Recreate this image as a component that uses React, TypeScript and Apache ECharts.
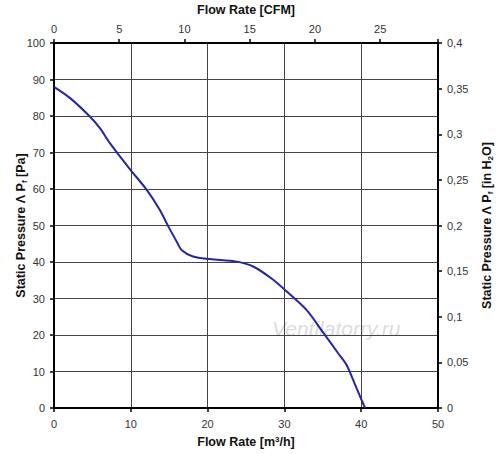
import React, { useEffect, useRef } from "react";
import * as echarts from "echarts";

const flowM3h = [0, 2.1, 4.7, 6.0, 7.3, 9.9, 12.1, 13.8, 14.9, 16.0, 16.6, 18.1, 20.3, 23.8, 26.0, 28.5, 30.3, 32.9, 35.1, 37.0, 38.1, 39.3, 40.5];
const pressurePa = [88, 84.9, 79.8, 76.6, 72.5, 65.4, 59.7, 54.2, 49.7, 45.5, 43.3, 41.5, 40.8, 40.1, 38.7, 35.2, 31.9, 26.8, 20.5, 15, 11.8, 5.9, 0];
const CFM_PER_M3H = 1 / 1.699;
const xMaxM3h = 50;
const yMaxPa = 100;
const yMaxInH2O = 0.4;

const FONT = "Liberation Sans, Arial, sans-serif";

export default function App() {
  const ref = useRef<HTMLDivElement>(null);
  useEffect(() => {
    const chart = echarts.init(ref.current!, null, { renderer: "svg" });
    const tickLabel = { color: "#333", fontSize: 11, fontFamily: FONT };
    const nameStyle = {
      color: "#111",
      fontSize: 12.5,
      fontWeight: "bold" as const,
      fontFamily: FONT,
      rich: {
        sub: { fontSize: 8, fontWeight: "bold", fontFamily: FONT, color: "#111", padding: [7, 0, 0, 0] },
        sup: { fontSize: 8, fontWeight: "bold", fontFamily: FONT, color: "#111", padding: [0, 0, 6, 0] },
      },
    };
    const axisLine = { show: true, onZero: false, lineStyle: { color: "#000", width: 2 } };
    const axisTick = { show: true, length: 4, lineStyle: { color: "#000", width: 1.5 } };
    chart.setOption({
      animation: false,
      backgroundColor: "#fff",
      grid: { left: 54, right: 62, top: 43, bottom: 46, containLabel: false, outerBoundsMode: "none" },
      xAxis: [
        {
          type: "value",
          position: "bottom",
          min: 0,
          max: xMaxM3h,
          interval: 10,
          name: "Flow Rate [m{sup|3}/h]",
          nameLocation: "middle",
          nameGap: 27,
          nameMoveOverlap: false,
          nameTextStyle: nameStyle,
          axisLine,
          axisTick,
          axisLabel: { ...tickLabel, margin: 10 },
          splitLine: { show: true, lineStyle: { color: "#444", width: 1 } },
        },
        {
          type: "value",
          position: "top",
          min: 0,
          max: xMaxM3h * CFM_PER_M3H,
          interval: 5,
          name: "Flow Rate [CFM]",
          nameLocation: "middle",
          nameGap: 27,
          nameMoveOverlap: false,
          nameTextStyle: nameStyle,
          axisLine,
          axisTick,
          axisLabel: {
            ...tickLabel,
            margin: 9,
            formatter: (v: number) => (Math.abs(v - Math.round(v / 5) * 5) < 1e-6 ? String(Math.round(v)) : ""),
          },
          splitLine: { show: false },
        },
      ],
      yAxis: [
        {
          type: "value",
          position: "left",
          min: 0,
          max: yMaxPa,
          interval: 10,
          name: "Static Pressure Λ P{sub|f} [Pa]",
          nameLocation: "middle",
          nameGap: 26,
          nameMoveOverlap: false,
          nameRotate: 90,
          nameTextStyle: nameStyle,
          axisLine,
          axisTick,
          axisLabel: { ...tickLabel, margin: 9 },
          splitLine: { show: true, lineStyle: { color: "#444", width: 1 } },
        },
        {
          type: "value",
          position: "right",
          min: 0,
          max: yMaxInH2O,
          interval: 0.05,
          name: "Static Pressure Λ P{sub|f} [in H{sub|2}O]",
          nameLocation: "middle",
          nameGap: 41,
          nameMoveOverlap: false,
          nameRotate: 90,
          nameTextStyle: nameStyle,
          axisLine,
          axisTick,
          axisLabel: {
            ...tickLabel,
            margin: 9,
            formatter: (v: number) => String(+v.toFixed(2)).replace(".", ","),
          },
          splitLine: { show: false },
        },
      ],
      graphic: [
        {
          type: "text",
          left: 272,
          top: 318,
          z: 0,
          style: {
            text: "Ventilatorry.ru",
            fontSize: 21,
            fontStyle: "italic",
            fontFamily: FONT,
            fill: "#dcdcdc",
          },
        },
      ],
      series: [
        {
          type: "line",
          xAxisIndex: 0,
          yAxisIndex: 0,
          data: flowM3h.map((x, i) => [x, pressurePa[i]]),
          smooth: 0.3,
          showSymbol: false,
          symbol: "none",
          lineStyle: { color: "#2626a0", width: 2 },
          z: 5,
        },
      ],
    });
    return () => chart.dispose();
  }, []);
  return <div ref={ref} style={{ position: "fixed", left: 0, top: 0, width: 500, height: 454 }} />;
}
